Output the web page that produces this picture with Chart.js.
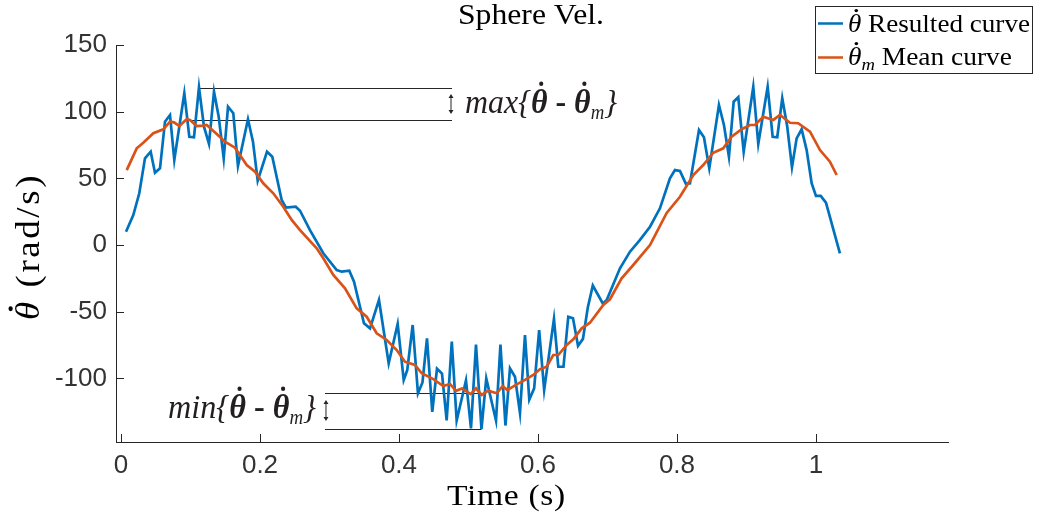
<!DOCTYPE html>
<html>
<head>
<meta charset="utf-8">
<script src="https://cdn.jsdelivr.net/npm/chart.js@4.4.0/dist/chart.umd.min.js"></script>
<style>
  html, body { margin: 0; padding: 0; background: #fff; }
</style>
</head>
<body>
<canvas id="velChart" width="1040" height="521"></canvas>
<script>
// resulted curve (blue)
const resultTime = [0.0072,0.0177,0.0263,0.0345,0.0427,0.0489,0.0561,0.0633,0.0705,0.0767,
  0.0911,0.0983,0.1050,0.1122,0.1194,0.1266,0.1338,0.1406,0.1478,0.1540,
  0.1616,0.1683,0.1827,0.1899,0.1967,0.2101,0.2177,0.2312,0.2374,0.2514,
  0.2576,0.2719,0.2911,0.3104,0.3176,0.3285,0.3353,0.3496,0.3583,0.3712,
  0.3852,0.3981,0.4068,0.4119,0.4197,0.4273,0.4338,0.4403,0.4479,0.4547,
  0.4619,0.4686,0.4760,0.4830,0.4964,0.5036,0.5108,0.5187,0.5256,0.5396,
  0.5460,0.5532,0.5597,0.5669,0.5741,0.5813,0.5875,0.5945,0.6017,0.6089,
  0.6230,0.6292,0.6367,0.6436,0.6504,0.6576,0.6647,0.6717,0.6789,0.6935,
  0.6989,0.7180,0.7324,0.7468,0.7612,0.7755,0.7899,0.7971,0.8043,0.8129,
  0.8187,0.8317,0.8388,0.8465,0.8604,0.8676,0.8748,0.8816,0.8882,0.8960,
  0.9098,0.9170,0.9305,0.9377,0.9443,0.9515,0.9587,0.9655,0.9722,0.9794,
  0.9866,0.9938,1.0000,1.0068,1.0144,1.0345];
const resultVel = [10.0,22.5,38.8,65.0,70.0,54.2,57.5,92.5,97.5,63.8,
  113.8,81.2,80.8,118.3,88.7,75.8,115.0,96.2,65.0,103.7,
  98.8,59.2,94.3,77.5,48.2,70.0,66.2,33.8,28.0,28.7,
  25.7,11.2,-6.2,-18.8,-20.0,-19.3,-27.5,-58.7,-62.5,-41.2,
  -88.7,-59.2,-101.2,-93.8,-60.0,-111.2,-103.1,-70.1,-125.2,-92.8,
  -96.4,-131.6,-72.5,-131.6,-101.6,-137.5,-74.6,-138.0,-100.0,-131.6,
  -74.6,-135.4,-92.5,-98.8,-126.0,-67.5,-116.0,-107.5,-63.8,-108.8,
  -55.4,-91.3,-91.3,-53.8,-55.0,-75.6,-70.4,-46.9,-30.4,-44.0,
  -41.2,-17.5,-5.0,3.8,13.7,27.5,50.0,56.2,55.5,45.8,
  46.3,86.2,80.8,57.5,105.0,90.0,66.2,107.5,110.8,70.0,
  118.7,75.8,118.7,81.2,80.8,110.0,88.7,58.3,80.0,86.8,
  71.2,46.3,36.8,36.8,31.7,-6.2];

// mean curve (orange)
const meanTime = [0.0082,0.0226,0.0321,0.0465,0.0609,0.0705,0.0763,0.0839,0.0945,0.0993,
  0.1089,0.1184,0.1233,0.1377,0.1496,0.1640,0.1809,0.1928,0.2047,0.2191,
  0.2335,0.2456,0.2576,0.2816,0.2911,0.3055,0.3223,0.3391,0.3535,0.3679,
  0.3823,0.3967,0.4086,0.4230,0.4327,0.4494,0.4638,0.4734,0.4820,0.4906,
  0.5032,0.5108,0.5190,0.5285,0.5406,0.5492,0.5558,0.5694,0.5813,0.5932,
  0.6029,0.6125,0.6220,0.6292,0.6413,0.6508,0.6629,0.6748,0.6940,0.7036,
  0.7204,0.7371,0.7612,0.7852,0.8043,0.8235,0.8378,0.8522,0.8666,0.8787,
  0.8931,0.9050,0.9122,0.9242,0.9386,0.9482,0.9626,0.9745,0.9914,1.0058,
  1.0201,1.0298];
const meanVel = [56.2,72.5,76.7,83.8,86.8,92.5,92.0,89.2,94.3,93.8,
  89.2,89.5,90.0,83.2,77.5,73.0,60.0,55.0,46.3,38.8,
  28.7,18.8,11.2,-2.5,-10.0,-22.5,-32.5,-47.5,-53.8,-66.2,
  -71.2,-78.8,-87.5,-90.0,-96.2,-100.6,-105.8,-104.2,-109.4,-107.6,
  -111.8,-107.5,-112.5,-109.3,-111.2,-105.8,-108.8,-104.5,-101.2,-97.5,
  -93.2,-91.3,-82.5,-82.5,-75.0,-70.7,-62.5,-58.3,-45.0,-40.7,
  -25.0,-15.0,0.0,24.0,36.2,52.5,60.0,69.2,72.5,81.2,
  86.8,90.0,90.0,96.2,93.8,97.5,91.7,91.3,85.0,71.2,
  62.5,52.5];

const xTicks = [0, 0.2, 0.4, 0.6, 0.8, 1];
const xTickLabels = ['0', '0.2', '0.4', '0.6', '0.8', '1'];
const yTicks = [-100, -50, 0, 50, 100, 150];
const yTickLabels = ['-100', '-50', '0', '50', '100', '150'];

// max / min difference markers: [time, value]
const maxResultPeak = [0.1122, 117.75];
const maxMeanPeak = [0.0993, 93.75];
const maxLineEnd = 0.4763;
const minLineStart = 0.2935;
const minResultLow = [0.5187, -138.0];
const minMeanLow = [0.5190, -111.0];

const BLUE = '#0072BD';
const ORANGE = '#D95319';
const AXIS = '#262626';
const SERIF = '"Liberation Serif", "Times New Roman", serif';

function runsWidth(ctx, runs) {
  let w = 0;
  ctx.letterSpacing = '0px';
  runs.forEach(r => { ctx.font = r.font; w += ctx.measureText(r.text).width; });
  return w;
}

// draw text pieces in a row; widen to a target width with a mild stretch plus letter spacing
function drawRuns(ctx, runs, x, y, width) {
  const natural = runsWidth(ctx, runs);
  let sx = 1, spacing = 0;
  if (width) {
    sx = Math.min(width / natural, 1.12);
    const chars = runs.reduce((n, r) => n + r.text.length, 0);
    spacing = (width / sx - natural) / chars;
  }
  ctx.save();
  ctx.translate(x, y);
  ctx.scale(sx, 1);
  ctx.textAlign = 'left';
  ctx.textBaseline = 'alphabetic';
  let cx = 0;
  runs.forEach(r => {
    ctx.font = r.font;
    ctx.letterSpacing = '0px';
    const glyphW = ctx.measureText(r.text).width;
    ctx.letterSpacing = spacing.toFixed(2) + 'px';
    const dy = r.dy || 0;
    ctx.fillText(r.text, cx, dy);
    if (r.dot) {
      ctx.beginPath();
      ctx.arc(cx + glyphW * 0.62, dy - r.dot * 0.86, r.dot * 0.065, 0, Math.PI * 2);
      ctx.fill();
    }
    cx += glyphW + spacing * r.text.length;
  });
  ctx.restore();
}

function vArrow(ctx, x, y1, y2) {
  const h = 4;
  ctx.beginPath();
  ctx.moveTo(x, y1 + 2);
  ctx.lineTo(x, y2 - 2);
  ctx.stroke();
  ctx.beginPath();
  ctx.moveTo(x, y1); ctx.lineTo(x - 2.5, y1 + h); ctx.lineTo(x + 2.5, y1 + h); ctx.closePath();
  ctx.moveTo(x, y2); ctx.lineTo(x - 2.5, y2 - h); ctx.lineTo(x + 2.5, y2 - h); ctx.closePath();
  ctx.fill();
}

const markerPlugin = {
  id: 'markers',
  beforeDatasetsDraw(chart) {
    const { ctx, scales: { x, y } } = chart;
    ctx.save();
    ctx.strokeStyle = AXIS;
    ctx.lineWidth = 1.2;
    const hline = (t0, t1, v) => {
      const py = Math.round(y.getPixelForValue(v)) + 0.5;
      ctx.beginPath();
      ctx.moveTo(x.getPixelForValue(t0), py);
      ctx.lineTo(x.getPixelForValue(t1), py);
      ctx.stroke();
    };
    hline(maxResultPeak[0], maxLineEnd, maxResultPeak[1]);
    hline(maxMeanPeak[0], maxLineEnd, maxMeanPeak[1]);
    hline(minLineStart, minResultLow[0], minResultLow[1]);
    hline(minLineStart, minMeanLow[0], minMeanLow[1]);
    ctx.restore();
  },
  afterDraw(chart) {
    const { ctx, chartArea, scales: { x, y } } = chart;
    ctx.save();
    ctx.fillStyle = AXIS;
    ctx.strokeStyle = AXIS;
    ctx.lineWidth = 1;

    // inward tick marks
    xTicks.forEach(v => {
      const px = Math.round(x.getPixelForValue(v)) + 0.5;
      ctx.beginPath();
      ctx.moveTo(px, chartArea.bottom);
      ctx.lineTo(px, chartArea.bottom - 8);
      ctx.stroke();
    });
    yTicks.forEach(v => {
      const py = Math.round(y.getPixelForValue(v)) + 0.5;
      ctx.beginPath();
      ctx.moveTo(chartArea.left, py);
      ctx.lineTo(chartArea.left + 8, py);
      ctx.stroke();
    });

    // difference arrows
    const maxArrowX = x.getPixelForValue(maxLineEnd) - 1;
    vArrow(ctx, maxArrowX, y.getPixelForValue(maxResultPeak[1]) + 6, y.getPixelForValue(maxMeanPeak[1]) - 6);
    const minArrowX = x.getPixelForValue(minLineStart) + 1;
    vArrow(ctx, minArrowX, y.getPixelForValue(minMeanLow[1]) + 7, y.getPixelForValue(minResultLow[1]) - 8);

    // annotation labels
    ctx.fillStyle = '#231f20';
    const big = 34, sub = 20;
    const diffRuns = head => [
      { text: head + '{', font: `italic ${big}px ${SERIF}` },
      { text: 'θ', font: `italic bold ${big}px ${SERIF}`, dot: big },
      { text: ' - ', font: `bold ${big}px ${SERIF}` },
      { text: 'θ', font: `italic bold ${big}px ${SERIF}`, dot: big },
      { text: 'm', font: `italic ${sub}px ${SERIF}`, dy: 6 },
      { text: '}', font: `italic ${big}px ${SERIF}` }
    ];
    drawRuns(ctx, diffRuns('max'), 465, 113, 152);
    drawRuns(ctx, diffRuns('min'), 168, 418, 148);

    // title and axis titles
    ctx.fillStyle = '#000';
    drawRuns(ctx, [{ text: 'Sphere Vel.', font: `29px ${SERIF}` }], 458, 24, 146);
    drawRuns(ctx, [{ text: 'Time (s)', font: `30px ${SERIF}` }], 447, 505, 119);
    ctx.save();
    ctx.translate(39, 320);
    ctx.rotate(-Math.PI / 2);
    drawRuns(ctx, [
      { text: 'θ', font: `italic 33px ${SERIF}`, dot: 33 },
      { text: ' (rad/s)', font: `33px ${SERIF}` }
    ], 0, 0, 147);
    ctx.restore();

    // legend
    ctx.fillStyle = '#fff';
    ctx.fillRect(815, 6, 217, 67);
    ctx.strokeStyle = '#262626';
    ctx.lineWidth = 1;
    ctx.strokeRect(815.5, 6.5, 217, 67);
    ctx.lineWidth = 2.5;
    ctx.strokeStyle = BLUE;
    ctx.beginPath(); ctx.moveTo(818, 23.5); ctx.lineTo(843, 23.5); ctx.stroke();
    ctx.strokeStyle = ORANGE;
    ctx.beginPath(); ctx.moveTo(818, 57.5); ctx.lineTo(843, 57.5); ctx.stroke();
    ctx.fillStyle = '#000';
    drawRuns(ctx, [
      { text: 'θ', font: `italic 25px ${SERIF}`, dot: 25 },
      { text: ' Resulted curve', font: `25px ${SERIF}` }
    ], 848, 32, 182);
    drawRuns(ctx, [
      { text: 'θ', font: `italic 25px ${SERIF}`, dot: 25 },
      { text: 'm', font: `italic 17px ${SERIF}`, dy: 5 },
      { text: ' Mean curve', font: `25px ${SERIF}` }
    ], 848, 65, 164);
    ctx.restore();
  }
};

const ctx = document.getElementById('velChart').getContext('2d');
const velChart = new Chart(ctx, {
  type: 'scatter',
  data: {
    datasets: [{
      label: 'Resulted curve',
      data: resultTime.map((t, i) => ({ x: t, y: resultVel[i] })),
      showLine: true,
      borderColor: BLUE,
      borderWidth: 2.7,
      pointRadius: 0,
      tension: 0,
      order: 1
    }, {
      label: 'Mean curve',
      data: meanTime.map((t, i) => ({ x: t, y: meanVel[i] })),
      showLine: true,
      borderColor: ORANGE,
      borderWidth: 2.7,
      pointRadius: 0,
      tension: 0,
      order: 0
    }]
  },
  options: {
    responsive: false,
    animation: false,
    devicePixelRatio: 1,
    layout: { padding: { left: 0, top: 45, right: 92, bottom: 0 } },
    plugins: {
      legend: { display: false },
      title: { display: false },
      tooltip: { enabled: false }
    },
    scales: {
      x: {
        type: 'linear',
        min: -0.0072,
        max: 1.19,
        afterBuildTicks: s => { s.ticks = xTicks.map(v => ({ value: v })); },
        afterFit: s => { s.height = 79; },
        grid: { display: false, drawTicks: false },
        border: { display: true, color: AXIS, width: 1 },
        ticks: {
          callback: (v, i) => xTickLabels[i],
          font: { family: '"Liberation Sans", Arial, sans-serif', size: 26 },
          color: '#333',
          padding: 8,
          maxRotation: 0,
          autoSkip: false
        }
      },
      y: {
        type: 'linear',
        min: -147.75,
        max: 150,
        afterBuildTicks: s => { s.ticks = yTicks.map(v => ({ value: v })); },
        afterFit: s => { s.width = 116; },
        grid: { display: false, drawTicks: false },
        border: { display: true, color: AXIS, width: 1 },
        ticks: {
          callback: (v, i) => yTickLabels[i],
          font: { family: '"Liberation Sans", Arial, sans-serif', size: 26 },
          color: '#333',
          padding: 9,
          autoSkip: false
        }
      }
    }
  },
  plugins: [markerPlugin]
});
</script>
</body>
</html>
